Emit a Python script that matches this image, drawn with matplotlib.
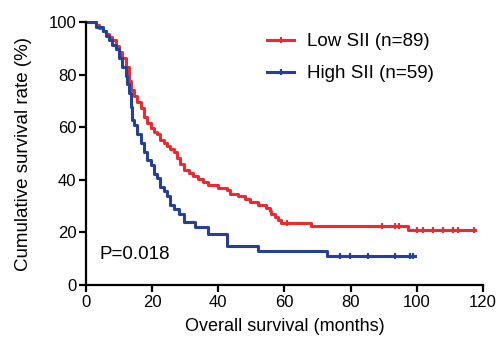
#!/usr/bin/env python3
import numpy as np
import matplotlib
matplotlib.use("Agg")
import matplotlib.pyplot as plt
from matplotlib.lines import Line2D

plt.rcParams['font.family'] = ['Liberation Sans', 'DejaVu Sans']

# Low SII (n=89): step times (months) and survival (%) after each step
low_t = [0, 3, 4, 5, 6, 7, 8, 9, 10, 11, 12, 13, 13.5, 14.5, 15.5, 16.5, 17.5,
         18.5, 19.5, 20.5, 21.5, 22.5, 23.5, 24.5, 25.5, 26.5, 27.5, 28.5, 29.5,
         31, 32.5, 34, 35.5, 37, 40, 42.5, 43.5, 46, 48, 49.5, 52, 54.5, 55.5,
         56, 57, 58, 59, 68, 97.5]
low_s = [100, 98.9, 97.8, 96.6, 95.5, 94.4, 93.3, 91.0, 88.8, 86.5, 83.1, 77.5,
         74.2, 71.9, 69.7, 67.4, 64.0, 61.8, 59.6, 58.4, 57.3, 55.1, 53.9, 52.8,
         51.7, 50.6, 48.3, 46.1, 43.8, 42.7, 41.6, 40.4, 39.3, 38.2, 37.1, 36.0,
         34.8, 33.7, 32.6, 31.5, 30.3, 29.2, 28.1, 27.0, 25.8, 24.7, 23.6, 22.4,
         20.9]
low_end = 117.5
low_cens = [60.7, 89.5, 93.5, 94.5, 100, 102, 105, 108, 111, 112.6, 117.2]

# High SII (n=59)
high_t = [0, 3, 5, 6, 7, 8, 9, 10, 11, 12, 12.5, 13, 13.5, 14, 14.5, 15.5, 16.5,
          17.5, 18.5, 19.5, 20.5, 21.5, 22.5, 23.5, 24.5, 25.5, 26.5, 28, 29.5,
          33, 37, 42.5, 52, 73]
high_s = [100, 98.3, 96.6, 94.9, 93.2, 91.5, 89.8, 86.4, 83.1, 79.7, 76.3, 72.9,
          67.8, 62.7, 61.0, 57.6, 54.2, 50.8, 47.5, 45.8, 42.4, 40.7, 37.3, 35.6,
          33.9, 30.5, 28.8, 27.1, 24.1, 22.0, 19.3, 14.9, 12.9, 11.1]
high_end = 99.5
high_cens = [76.9, 79.9, 85.4, 93.5, 98, 99]

red = '#ee2a2f'
blue = '#25409a'

fig = plt.figure(figsize=(5.03, 3.41), dpi=100)
ax = fig.add_axes([0.171, 0.164, 0.789, 0.771])


def km(t, s, end, cens, color):
    tt = list(t) + [end]
    ss = list(s) + [s[-1]]
    ax.step(tt, ss, where='post', color=color, lw=2.2, clip_on=False)
    idx = np.searchsorted(t, cens, side='right') - 1
    ax.plot(cens, np.array(s)[idx], ls='none', marker='|', ms=5, mew=1.6,
            color=color, clip_on=False)


km(low_t, low_s, low_end, low_cens, red)
km(high_t, high_s, high_end, high_cens, blue)

ax.set_xlim(0, 120)
ax.set_ylim(0, 100)
ax.set_xticks(range(0, 121, 20))
ax.set_yticks(range(0, 101, 20))
for side in ['top', 'right']:
    ax.spines[side].set_visible(False)
for side in ['left', 'bottom']:
    ax.spines[side].set_linewidth(1.6)
ax.tick_params(direction='out', length=5, width=1.6, labelsize=12,
               colors='black', pad=2)
ax.set_xlabel('Overall survival (months)', fontsize=13, labelpad=6)
ax.set_ylabel('Cumulative survival rate (%)', fontsize=13.5, labelpad=12)

ax.text(4, 11.5, 'P=0.018', fontsize=13.5, va='center', ha='left')

handles = [Line2D([], [], color=red, lw=2.2, marker='|', ms=5, mew=1.6),
           Line2D([], [], color=blue, lw=2.2, marker='|', ms=5, mew=1.6)]
ax.legend(handles, ['Low SII (n=89)', 'High SII (n=59)'], loc='upper left',
          bbox_to_anchor=(0.456, 0.958), frameon=False, fontsize=13.5,
          borderpad=0, borderaxespad=0, handlelength=1.45,
          handletextpad=0.7, labelspacing=0.78)

fig.savefig('out.png', dpi=100)
